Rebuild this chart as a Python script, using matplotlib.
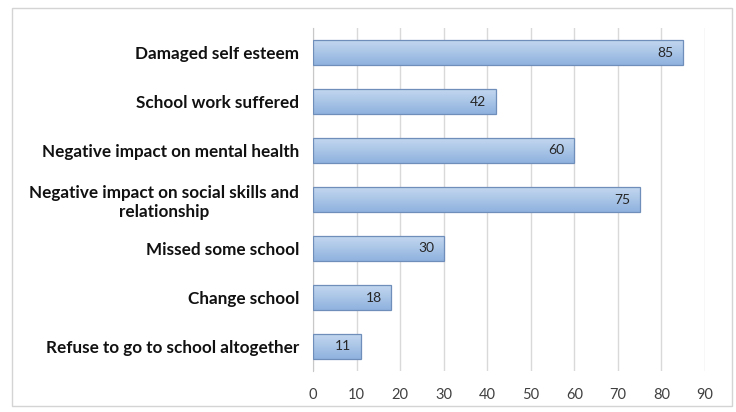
import matplotlib
matplotlib.use("Agg")
import matplotlib.pyplot as plt
from matplotlib.patches import Rectangle
from matplotlib.colors import LinearSegmentedColormap
import numpy as np

categories = [
    "Damaged self esteem",
    "School work suffered",
    "Negative impact on mental health",
    "Negative impact on social skills and\nrelationship",
    "Missed some school",
    "Change school",
    "Refuse to go to school altogether",
]
values = [85, 42, 60, 75, 30, 18, 11]
xticks = [0, 10, 20, 30, 40, 50, 60, 70, 80, 90]

plt.rcParams['font.family'] = ['Lato', 'DejaVu Sans']

fig = plt.figure(figsize=(7.36, 4.12), dpi=100)
fig.patch.set_facecolor('white')
fig.patches.append(Rectangle((12/736, 1-406/412), 720/736, 398/412, transform=fig.transFigure,
                             fill=False, edgecolor='#d4d4d4', linewidth=1.0))

ax = fig.add_axes([313/736, 1-371/412, (705-313)/736, (371-28)/412])
n = len(categories)
ypos = np.arange(n)
ax.set_ylim(n - 0.5, -0.5)
ax.set_xlim(0, 90)

grad = np.linspace(0, 1, 64).reshape(-1, 1)
cmap = LinearSegmentedColormap.from_list('g', ['#c3d7ef', '#8fb2de'])
bars = ax.barh(ypos, values, height=0.5, color='none', edgecolor='#6f8fba', linewidth=0.9, zorder=3)
for b in bars:
    x0, y0 = b.get_x(), b.get_y()
    w, h = b.get_width(), b.get_height()
    im = ax.imshow(grad, extent=(x0, x0 + w, y0 + h, y0), aspect='auto', cmap=cmap, zorder=2.5)
    im.set_clip_path(b)
for b, v in zip(bars, values):
    ax.text(v - 2.2, b.get_y() + b.get_height()/2, str(v), ha='right', va='center',
            fontsize=10, color='#262626', zorder=4)

ax.set_yticks(ypos)
ax.set_yticklabels(categories, fontsize=12.3, fontweight='bold', color='#111111',
                   multialignment='center', linespacing=1.25)
ax.set_xticks(xticks)
ax.set_xticklabels([str(t) for t in xticks], fontsize=10.5, color='#404040')
ax.tick_params(axis='both', length=0)
ax.tick_params(axis='y', pad=10)
ax.tick_params(axis='x', pad=12)
ax.grid(axis='x', color='#d9d9d9', linewidth=1.0, zorder=0)
ax.set_axisbelow(True)
for s in ['top', 'right', 'bottom']:
    ax.spines[s].set_visible(False)
ax.spines['left'].set_color('#c8c8c8')

fig.savefig('out.png', dpi=100, facecolor='white')
